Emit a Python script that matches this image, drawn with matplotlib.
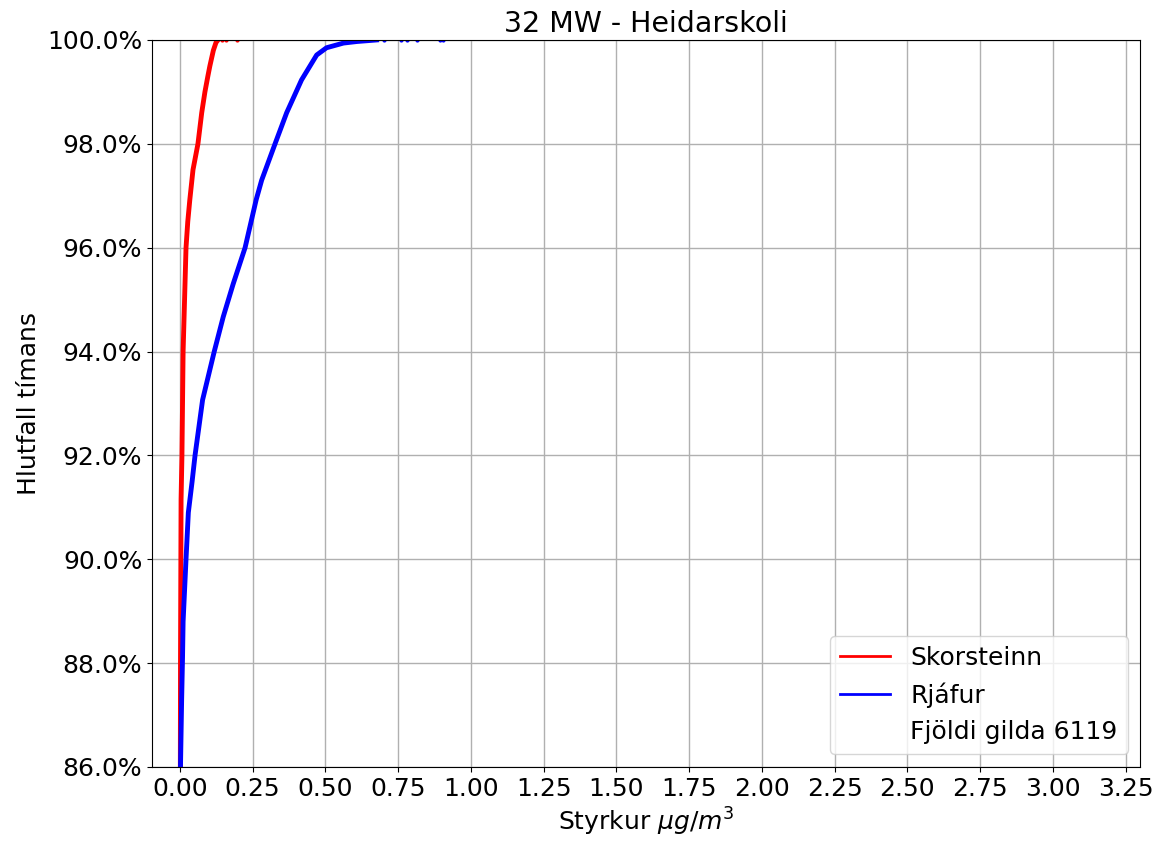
import numpy as np
import matplotlib
matplotlib.use('Agg')
import matplotlib.pyplot as plt
from matplotlib.ticker import FuncFormatter

# cumulative share of hours (%) vs concentration
skor_x = [0.0, 0.002, 0.004, 0.007, 0.011, 0.021, 0.027, 0.034, 0.045, 0.062, 0.075, 0.086, 0.096, 0.103, 0.115, 0.124, 0.131]
skor_y = [80.0, 88.0, 91.15, 92.0, 94.0, 96.0, 96.5, 96.92, 97.5, 98.0, 98.6, 99.0, 99.3, 99.5, 99.8, 99.95, 100.0]
skor_tail = [0.145, 0.16, 0.196]

rja_x = [0.0, 0.002, 0.006, 0.009, 0.011, 0.021, 0.029, 0.042, 0.052, 0.078, 0.118, 0.149, 0.183,
         0.224, 0.262, 0.281, 0.327, 0.367, 0.418, 0.47, 0.504, 0.562, 0.608, 0.676]
rja_y = [80.0, 86.0, 87.3, 88.1, 88.8, 90.0, 90.9, 91.5, 92.0, 93.07, 94.0, 94.67, 95.3,
         96.0, 96.92, 97.3, 98.0, 98.6, 99.23, 99.71, 99.85, 99.94, 99.97, 100.0]
rja_tail = [0.70, 0.76, 0.78, 0.815, 0.894, 0.905]

n_gildi = 6119

plt.rcParams['font.size'] = 18

fig = plt.figure(figsize=(11.61, 8.43), dpi=100)
ax = fig.add_axes([0.1309, 0.0902, 0.8511, 0.8624])

ax.plot(skor_x, skor_y, color='red', lw=3.5, label='Skorsteinn')
ax.plot(skor_tail, [100.0] * len(skor_tail), '.', color='red', ms=4)
ax.plot(rja_x, rja_y, color='blue', lw=3.5, label='Rjáfur')
ax.plot(rja_tail, [100.0] * len(rja_tail), '.', color='blue', ms=4)
ax.plot([], [], ' ', label='Fjöldi gilda %d' % n_gildi)

ax.set_xlim(-0.096, 3.3)
ax.set_ylim(86, 100)
ax.set_xticks(np.arange(0, 3.26, 0.25))
ax.set_yticks(np.arange(86, 100.1, 2))
ax.yaxis.set_major_formatter(FuncFormatter(lambda v, p: '%.1f%%' % v))
ax.xaxis.set_major_formatter(FuncFormatter(lambda v, p: '%.2f' % v))
ax.grid(True, lw=1.0)

ax.set_title('32 MW - Heidarskoli', fontsize=20.5)
ax.set_xlabel(r'Styrkur $\mu g/m^3$')
ax.set_ylabel('Hlutfall tímans')
leg = ax.legend(loc='lower right', handlelength=2.0)
for h in leg.legend_handles:
    h.set_linewidth(2)

fig.savefig('out.png', dpi=100)
